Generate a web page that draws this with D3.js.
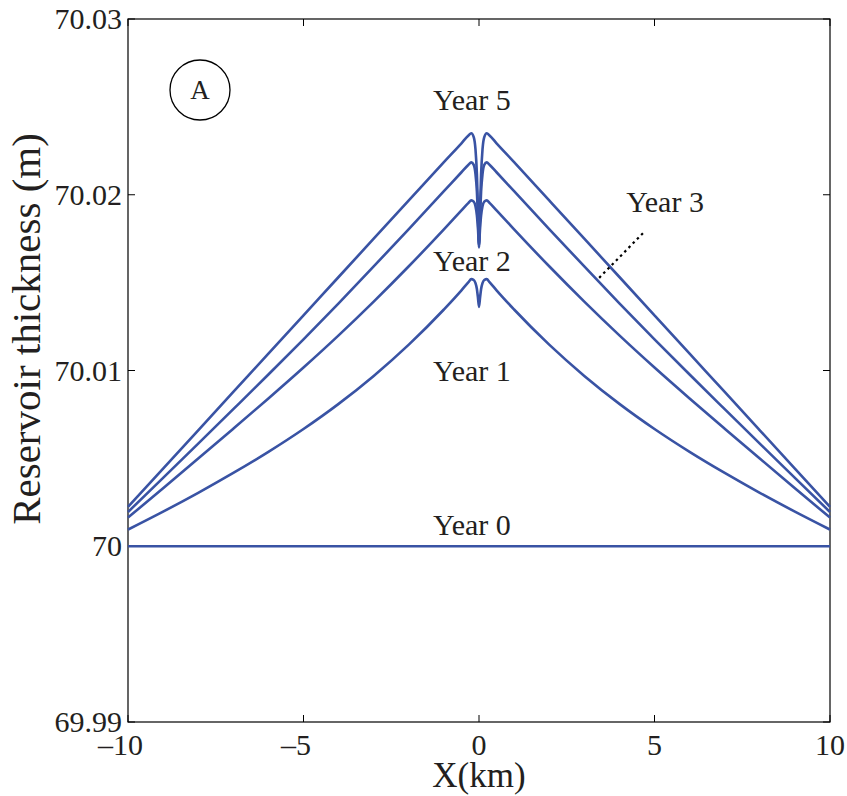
<!DOCTYPE html>
<html>
<head>
<meta charset="utf-8">
<script src="https://cdn.jsdelivr.net/npm/d3@7"></script>
<style>
  html, body { margin: 0; padding: 0; background: #fff; }
  svg { display: block; font-family: "Liberation Serif", "Times New Roman", serif; }
</style>
</head>
<body>
<svg id="chart" width="847" height="796"></svg>
<script>
// ---- data ----
const xKm = [-10, -9, -8, -7, -6, -5, -4, -3, -2, -1, -0.5, -0.3, -0.22, -0.15, -0.1, -0.06, -0.03, 0,
             0.03, 0.06, 0.1, 0.15, 0.22, 0.3, 0.5, 1, 2, 3, 4, 5, 6, 7, 8, 9, 10];

const year0 = [70, 70, 70, 70, 70, 70, 70, 70, 70, 70, 70, 70, 70, 70, 70, 70, 70, 70,
               70, 70, 70, 70, 70, 70, 70, 70, 70, 70, 70, 70, 70, 70, 70, 70, 70];

const year1 = [70.00095, 70.00197, 70.00304, 70.00417, 70.00537, 70.00667, 70.00810, 70.00969, 70.01147, 70.01347, 70.01456, 70.01503, 70.01520, 70.01515, 70.01497, 70.01464, 70.01415, 70.01362,
               70.01415, 70.01464, 70.01497, 70.01515, 70.01520, 70.01503, 70.01456, 70.01347, 70.01147, 70.00969, 70.00810, 70.00667, 70.00537, 70.00417, 70.00304, 70.00197, 70.00095];

const year2 = [70.00163, 70.00330, 70.00499, 70.00669, 70.00841, 70.01017, 70.01200, 70.01392, 70.01593, 70.01803, 70.01911, 70.01954, 70.01968, 70.01961, 70.01934, 70.01882, 70.01808, 70.01720,
               70.01808, 70.01882, 70.01934, 70.01961, 70.01968, 70.01954, 70.01911, 70.01803, 70.01593, 70.01392, 70.01200, 70.01017, 70.00841, 70.00669, 70.00499, 70.00330, 70.00163];

const year3 = [70.00195, 70.00389, 70.00584, 70.00780, 70.00977, 70.01177, 70.01382, 70.01592, 70.01805, 70.02020, 70.02128, 70.02171, 70.02184, 70.02170, 70.02118, 70.02019, 70.01879, 70.01710,
               70.01879, 70.02019, 70.02118, 70.02170, 70.02184, 70.02171, 70.02128, 70.02020, 70.01805, 70.01592, 70.01382, 70.01177, 70.00977, 70.00780, 70.00584, 70.00389, 70.00195];

const year5 = [70.00224, 70.00442, 70.00660, 70.00878, 70.01096, 70.01314, 70.01532, 70.01750, 70.01968, 70.02186, 70.02293, 70.02337, 70.02350, 70.02328, 70.02258, 70.02118, 70.01928, 70.01700,
               70.01928, 70.02118, 70.02258, 70.02328, 70.02350, 70.02337, 70.02293, 70.02186, 70.01968, 70.01750, 70.01532, 70.01314, 70.01096, 70.00878, 70.00660, 70.00442, 70.00224];

const seriesList = [year0, year1, year2, year3, year5];

const xTicks = [-10, -5, 0, 5, 10];
const yTicks = [69.99, 70, 70.01, 70.02, 70.03];
const yTickLabels = ["69.99", "70", "70.01", "70.02", "70.03"];

// labels: [text, x (km), y (m)]
const yearLabels = [
  ["Year 5", -0.2, 70.02485],
  ["Year 3", 5.3, 70.0190],
  ["Year 2", -0.2, 70.01565],
  ["Year 1", -0.2, 70.00943],
  ["Year 0", -0.2, 70.00063]
];
// dotted pointer for "Year 3": [x1, y1, x2, y2]
const pointer = [4.67, 70.01781, 3.36, 70.01514];

// ---- layout ----
const svg = d3.select("#chart");
const L = 128, T = 19, R = 830, B = 722;
const x = d3.scaleLinear().domain([-10, 10]).range([L, R]);
const y = d3.scaleLinear().domain([69.99, 70.03]).range([B, T]);

const lineColor = "#3953a4";
const fs = 30;
const ink = "#231f20";

// frame
svg.append("rect").attr("x", L).attr("y", T).attr("width", R - L).attr("height", B - T)
  .attr("fill", "none").attr("stroke", "#000").attr("stroke-width", 1.2);

// ticks (inward, mirrored)
const tl = 7;
xTicks.forEach(t => {
  svg.append("line").attr("x1", x(t)).attr("x2", x(t)).attr("y1", B).attr("y2", B - tl)
    .attr("stroke", "#000").attr("stroke-width", 1);
  svg.append("line").attr("x1", x(t)).attr("x2", x(t)).attr("y1", T).attr("y2", T + tl)
    .attr("stroke", "#000").attr("stroke-width", 1);
});
yTicks.forEach(t => {
  svg.append("line").attr("x1", L).attr("x2", L + tl).attr("y1", y(t)).attr("y2", y(t))
    .attr("stroke", "#000").attr("stroke-width", 1);
  svg.append("line").attr("x1", R).attr("x2", R - tl).attr("y1", y(t)).attr("y2", y(t))
    .attr("stroke", "#000").attr("stroke-width", 1);
});

// y tick labels
yTicks.forEach((t, i) => {
  svg.append("text").attr("x", L - 6).attr("y", y(t)).attr("dy", "0.34em")
    .attr("text-anchor", "end").attr("font-size", fs).attr("fill", ink)
    .text(yTickLabels[i]);
});

// x tick labels: digits centred on tick, minus hangs to the left
xTicks.forEach(t => {
  const digits = String(Math.abs(t));
  const txt = svg.append("text").attr("x", x(t)).attr("y", 755)
    .attr("text-anchor", "middle").attr("font-size", fs).attr("fill", ink)
    .text(digits);
  if (t < 0) {
    const w = txt.node().getComputedTextLength();
    svg.append("text").attr("x", x(t) - w / 2).attr("y", 755)
      .attr("text-anchor", "end").attr("font-size", fs).attr("fill", ink)
      .text("\u2013");
  }
});

// axis titles
svg.append("text").attr("x", x(0)).attr("y", 787).attr("text-anchor", "middle")
  .attr("font-size", 35).attr("fill", ink).text("X(km)");
svg.append("text").attr("transform", `translate(40, 329) rotate(-90)`)
  .attr("text-anchor", "middle").attr("font-size", 41).attr("fill", ink)
  .text("Reservoir thickness (m)");

// curves
const line = d3.line().x((d, i) => x(xKm[i])).y(d => y(d)).curve(d3.curveMonotoneX);
seriesList.forEach(s => {
  svg.append("path").datum(s).attr("d", line)
    .attr("fill", "none").attr("stroke", lineColor).attr("stroke-width", 2.6)
    .attr("stroke-linejoin", "round");
});

// labels
yearLabels.forEach(([t, lx, ly]) => {
  svg.append("text").attr("x", x(lx)).attr("y", y(ly)).attr("text-anchor", "middle")
    .attr("font-size", fs).attr("fill", ink).text(t);
});

// pointer
svg.append("line").attr("x1", x(pointer[0])).attr("y1", y(pointer[1]))
  .attr("x2", x(pointer[2])).attr("y2", y(pointer[3]))
  .attr("stroke", "#000").attr("stroke-width", 2.2).attr("stroke-dasharray", "2.5,3.5");

// panel marker
svg.append("circle").attr("cx", 200).attr("cy", 90).attr("r", 30)
  .attr("fill", "none").attr("stroke", "#000").attr("stroke-width", 1.3);
svg.append("text").attr("x", 200).attr("y", 90).attr("dy", "0.35em").attr("text-anchor", "middle")
  .attr("font-size", 27).attr("fill", ink).text("A");
</script>
</body>
</html>
